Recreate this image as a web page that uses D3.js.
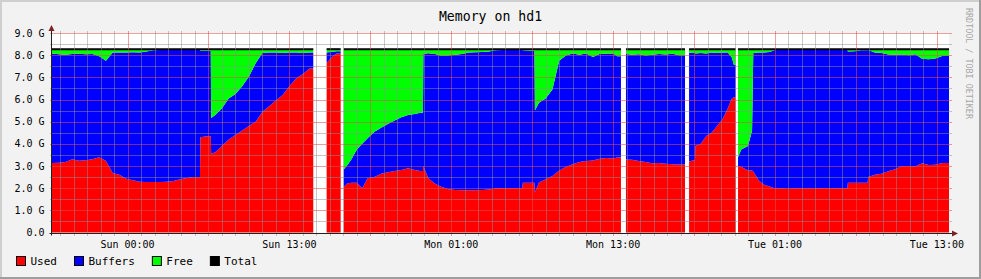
<!DOCTYPE html>
<html>
<head>
<meta charset="utf-8">
<script src="https://cdn.jsdelivr.net/npm/d3@7/dist/d3.min.js"></script>
<style>
  body { margin: 0; background: #f2f2f2; }
  svg text { font-family: "DejaVu Sans Mono", monospace; }
</style>
</head>
<body>
<svg id="chart" width="981" height="279"></svg>
<script>
// hours after Sun 00:00 (axis scale), one row per sample; null rows are gaps
const hours = [
  -5.6,-5.1,-4.6,-4.1,-3.6,-3.1,-2.6,-2.1,-1.6,-1.1,-0.6,-0.1,
  0.4,0.9,1.4,1.9,2.4,2.9,3.4,3.9,4.4,4.9,5.37,5.4,5.9,6.17,
  6.2,6.5,7.0,7.5,8.0,8.5,9.0,9.5,10.0,10.5,11.0,11.5,12.0,12.5,13.0,13.5,
  13.77,
  14.76,15.2,15.5,
  15.8,
  16.03,16.3,16.6,17.0,17.4,17.8,18.3,18.8,19.3,19.8,20.3,20.8,21.3,21.7,21.9,21.93,
  22.3,22.8,23.3,23.8,24.3,24.8,25.3,25.8,26.3,26.8,27.3,27.8,28.3,28.8,29.27,29.3,29.8,30.17,
  30.2,30.5,31.0,31.5,32.0,32.5,33.0,33.5,34.0,34.5,35.0,35.5,36.0,36.3,
  36.58,
  36.95,37.4,37.9,38.4,38.9,39.4,39.9,40.4,40.9,
  41.33,
  41.63,41.9,42.07,42.1,42.5,42.9,43.3,43.7,44.1,44.5,44.8,44.95,
  45.09,
  45.26,45.5,46.0,46.3,46.39,
  46.8,47.2,47.6,48.0,48.5,49.0,49.5,50.0,50.5,51.0,51.5,52.0,52.5,53.0,53.37,
  53.4,53.9,54.4,54.87,54.9,55.4,55.9,56.4,56.9,57.4,57.9,58.4,58.9,59.4,59.9,60.4
];
const endHour = 60.9;

// GB
const used = [
  3.14,3.15,3.18,3.30,3.24,3.26,3.30,3.40,3.22,2.68,2.60,2.42,
  2.36,2.29,2.28,2.28,2.28,2.29,2.32,2.40,2.46,2.50,2.50,4.30,4.34,4.34,
  3.55,3.62,3.90,4.20,4.40,4.60,4.80,5.00,5.45,5.70,5.95,6.20,6.60,6.95,7.15,7.40,
  null,
  7.65,7.95,8.08,
  null,
  2.05,2.22,2.24,2.25,2.00,2.45,2.50,2.65,2.72,2.78,2.82,2.90,2.82,2.78,2.78,3.00,
  2.45,2.20,2.05,1.95,1.92,1.91,1.91,1.91,1.92,1.94,1.98,2.00,2.00,2.00,2.00,2.24,2.24,2.24,
  1.80,2.26,2.40,2.55,2.80,2.95,3.08,3.18,3.22,3.25,3.33,3.36,3.34,3.38,
  null,
  3.29,3.28,3.22,3.18,3.12,3.13,3.10,3.08,3.07,
  null,
  3.20,3.25,3.25,3.90,4.00,4.35,4.50,4.80,5.10,5.60,6.05,6.10,
  null,
  3.00,2.95,2.80,2.80,2.75,
  2.35,2.15,2.08,1.98,1.98,1.97,1.98,1.98,1.98,1.99,2.00,2.00,1.99,2.00,2.00,
  2.24,2.24,2.25,2.25,2.50,2.60,2.65,2.76,2.85,2.99,3.00,2.98,3.12,3.05,3.06,3.14
];
const buffers = [
  4.94,4.89,4.84,4.75,4.82,4.78,4.75,4.55,4.53,5.44,5.52,5.70,
  5.77,5.83,5.88,5.94,5.95,5.94,5.91,5.83,5.77,5.73,5.73,3.90,3.86,3.86,
  1.62,1.68,1.70,1.85,1.85,2.00,2.24,2.64,2.65,2.42,2.17,1.90,1.52,1.17,0.95,0.72,
  null,
  0.47,0.20,0.10,
  null,
  0.79,0.83,1.06,1.50,2.00,1.80,2.05,2.07,2.18,2.27,2.38,2.40,2.53,2.62,2.62,5.05,
  5.64,5.85,5.91,6.03,6.10,6.14,6.21,6.22,6.22,6.22,6.24,6.23,6.23,6.23,6.23,5.98,5.96,5.96,
  3.70,3.59,3.65,3.90,4.95,5.03,5.00,4.84,4.86,4.67,4.72,4.70,4.74,4.57,
  null,
  4.76,4.74,4.82,4.80,4.90,4.92,4.93,4.98,4.93,
  null,
  4.92,4.85,4.85,4.18,4.10,3.73,3.62,3.30,3.02,2.52,1.85,1.47,
  null,
  0.40,0.79,1.10,1.80,5.35,
  5.77,5.97,6.06,6.25,6.25,6.26,6.25,6.25,6.25,6.24,6.23,6.23,6.24,6.23,6.23,
  5.93,5.94,5.97,5.97,5.73,5.52,5.45,5.27,5.17,5.04,5.00,5.06,4.72,4.77,4.79,4.82
];
const free = [
  0.19,0.23,0.25,0.22,0.21,0.23,0.22,0.32,0.52,0.15,0.15,0.15,
  0.14,0.15,0.11,0.05,0.04,0.04,0.04,0.04,0.04,0.04,0.04,0.07,0.07,0.07,
  3.10,2.97,2.67,2.22,2.02,1.67,1.23,0.63,0.17,0.15,0.15,0.17,0.15,0.15,0.17,0.15,
  null,
  0.15,0.12,0.09,
  null,
  5.43,5.22,4.97,4.52,4.27,4.02,3.72,3.55,3.37,3.22,3.07,2.97,2.92,2.87,2.87,0.22,
  0.18,0.22,0.31,0.29,0.25,0.22,0.15,0.14,0.13,0.11,0.05,0.04,0.04,0.04,0.04,0.05,0.07,0.07,
  2.77,2.42,2.22,1.82,0.52,0.29,0.19,0.25,0.19,0.35,0.22,0.21,0.19,0.32,
  null,
  0.22,0.25,0.23,0.29,0.25,0.22,0.24,0.21,0.27,
  null,
  0.15,0.17,0.17,0.19,0.17,0.19,0.15,0.17,0.15,0.15,0.37,0.70,
  null,
  4.87,4.53,4.37,3.67,0.17,
  0.15,0.15,0.13,0.04,0.04,0.04,0.04,0.04,0.04,0.04,0.04,0.04,0.04,0.04,0.04,
  0.10,0.09,0.05,0.05,0.04,0.15,0.17,0.24,0.25,0.24,0.27,0.23,0.43,0.45,0.42,0.31
];

const yTicks = [0, 1, 2, 3, 4, 5, 6, 7, 8, 9];
const yTickLabels = ['0.0', '1.0 G', '2.0 G', '3.0 G', '4.0 G', '5.0 G', '6.0 G', '7.0 G', '8.0 G', '9.0 G'];
const xTicks = [0, 12, 24, 36, 48, 60];
const xTickLabels = ['Sun 00:00', 'Sun 13:00', 'Mon 01:00', 'Mon 13:00', 'Tue 01:00', 'Tue 13:00'];

const seriesKeys = ['used', 'buffers', 'free'];
const legendNames = ['Used', 'Buffers', 'Free', 'Total'];
const colors = ['#ff0000', '#0000ff', '#00ff00', '#000000'];

const W = 981, H = 279;
const plotLeft = 52, plotRight = 949, plotTop = 33, plotBottom = 232.5;

const svg = d3.select('#chart');

// background + shade border
svg.append('rect').attr('width', W).attr('height', H).attr('fill', '#f2f2f2');
svg.append('path').attr('d', `M1,${H} V1 H${W}`)
  .attr('fill', 'none').attr('stroke', '#cfcfcf').attr('stroke-width', 2);
svg.append('path').attr('d', `M${W - 1},0 V${H - 1} H0`)
  .attr('fill', 'none').attr('stroke', '#9e9e9e').attr('stroke-width', 2);

const x = d3.scaleLinear().domain([hours[0], endHour]).range([plotLeft, plotRight]);
const y = d3.scaleLinear().domain([0, 9]).range([plotBottom, plotTop]);

// canvas
svg.append('rect')
  .attr('x', plotLeft).attr('y', plotTop)
  .attr('width', plotRight - plotLeft).attr('height', plotBottom - plotTop)
  .attr('fill', '#ffffff');

// rows and contiguous runs of known data
const rows = hours.map((h, i) => ({hour: h, used: used[i], buffers: buffers[i], free: free[i]}));
const runs = [];
let cur = null;
rows.forEach((r, i) => {
  if (r.used == null) { cur = null; return; }
  if (!cur) { cur = []; runs.push(cur); }
  cur.push(r);
  const last = i + 1 >= rows.length || rows[i + 1].used == null;
  if (last) {
    const nextHour = i + 1 < rows.length ? rows[i + 1].hour : endHour;
    cur.push(Object.assign({}, r, {hour: nextHour}));
  }
});

const stack = d3.stack().keys(seriesKeys);

const area = d3.area()
  .x(d => x(d.data.hour))
  .y0(d => y(d[0]))
  .y1(d => y(d[1]));

const totalLine = d3.line()
  .x(d => x(d.data.hour))
  .y(d => y(d[1]));

const plot = svg.append('g');
const stacked = runs.map(run => stack(run));

stacked.forEach(layers => {
  layers.forEach((layer, k) => {
    plot.append('path')
      .datum(layer)
      .attr('d', area)
      .attr('fill', colors[k]);
  });
});

stacked.forEach(layers => {
  plot.append('path')
    .datum(layers[layers.length - 1])
    .attr('d', totalLine)
    .attr('fill', 'none')
    .attr('stroke', colors[3])
    .attr('stroke-width', 2);
});

// grid (drawn over the data like rrdtool)
const grid = svg.append('g').attr('shape-rendering', 'crispEdges');
const minorY = d3.range(1, 18).map(v => v / 2).filter(v => v % 1 !== 0);
const minorX = d3.range(-5, 61).filter(h => h % 6 !== 0);
const majorX = d3.range(0, 61, 6);
const minorColor = 'rgba(143,143,143,0.5)';
const majorColor = 'rgba(222,79,79,0.55)';

grid.selectAll('.minor-y').data(minorY).enter().append('line')
  .attr('x1', plotLeft - 2).attr('x2', plotRight + 3)
  .attr('y1', d => Math.round(y(d)) + 0.5).attr('y2', d => Math.round(y(d)) + 0.5)
  .attr('stroke', minorColor);

grid.selectAll('.minor-x').data(minorX).enter().append('line')
  .attr('x1', d => Math.round(x(d)) + 0.5).attr('x2', d => Math.round(x(d)) + 0.5)
  .attr('y1', plotTop - 2).attr('y2', plotBottom + 3)
  .attr('stroke', minorColor);

grid.selectAll('.major-y').data(yTicks.slice(1)).enter().append('line')
  .attr('x1', plotLeft - 2).attr('x2', plotRight + 3)
  .attr('y1', d => Math.round(y(d)) + 0.5).attr('y2', d => Math.round(y(d)) + 0.5)
  .attr('stroke', majorColor);

grid.selectAll('.major-x').data(majorX).enter().append('line')
  .attr('x1', d => Math.round(x(d)) + 0.5).attr('x2', d => Math.round(x(d)) + 0.5)
  .attr('y1', plotTop - 2).attr('y2', plotBottom + 3)
  .attr('stroke', majorColor);

// axes
const axisY0 = Math.round(plotBottom) + 0.5;
const axisX0 = Math.round(plotLeft) - 0.5;
svg.append('line')
  .attr('x1', axisX0 - 2).attr('x2', plotRight + 4)
  .attr('y1', axisY0).attr('y2', axisY0)
  .attr('stroke', '#202020');
svg.append('line')
  .attr('x1', axisX0).attr('x2', axisX0)
  .attr('y1', axisY0 + 2).attr('y2', plotTop - 3)
  .attr('stroke', '#202020');
svg.append('path')
  .attr('d', `M${plotRight + 3},${axisY0 - 3} L${plotRight + 9},${axisY0} L${plotRight + 3},${axisY0 + 3} Z`)
  .attr('fill', '#802020');
svg.append('path')
  .attr('d', `M${axisX0 - 3},${plotTop - 2} L${axisX0},${plotTop - 8} L${axisX0 + 3},${plotTop - 2} Z`)
  .attr('fill', '#802020');

// tick labels
svg.append('g').selectAll('text').data(yTicks).enter().append('text')
  .attr('x', 44.5)
  .attr('y', d => y(d) + 3.5)
  .attr('text-anchor', 'end')
  .attr('font-size', 10)
  .attr('fill', '#000')
  .text((d, i) => yTickLabels[i]);

svg.append('g').selectAll('text').data(xTicks).enter().append('text')
  .attr('x', d => x(d))
  .attr('y', 248)
  .attr('text-anchor', 'middle')
  .attr('font-size', 10)
  .attr('fill', '#000')
  .text((d, i) => xTickLabels[i]);

// title
svg.append('text')
  .attr('x', W / 2)
  .attr('y', 21)
  .attr('text-anchor', 'middle')
  .attr('font-size', 13.2)
  .attr('fill', '#000')
  .text('Memory on hd1');

// watermark
svg.append('text')
  .attr('transform', 'translate(966,8) rotate(90)')
  .attr('font-size', 8.4)
  .attr('fill', '#a8a8a8')
  .text('RRDTOOL / TOBI OETIKER');

// legend
const legend = svg.append('g');
let lx = 16;
legendNames.forEach((name, i) => {
  legend.append('rect')
    .attr('x', lx + 0.5).attr('y', 256.5)
    .attr('width', 9).attr('height', 9)
    .attr('fill', colors[i])
    .attr('stroke', '#000');
  const t = legend.append('text')
    .attr('x', lx + 14.5)
    .attr('y', 265)
    .attr('font-size', 11)
    .attr('fill', '#000')
    .text(name);
  lx += 14.5 + t.node().getComputedTextLength() + 17;
});
</script>
</body>
</html>
